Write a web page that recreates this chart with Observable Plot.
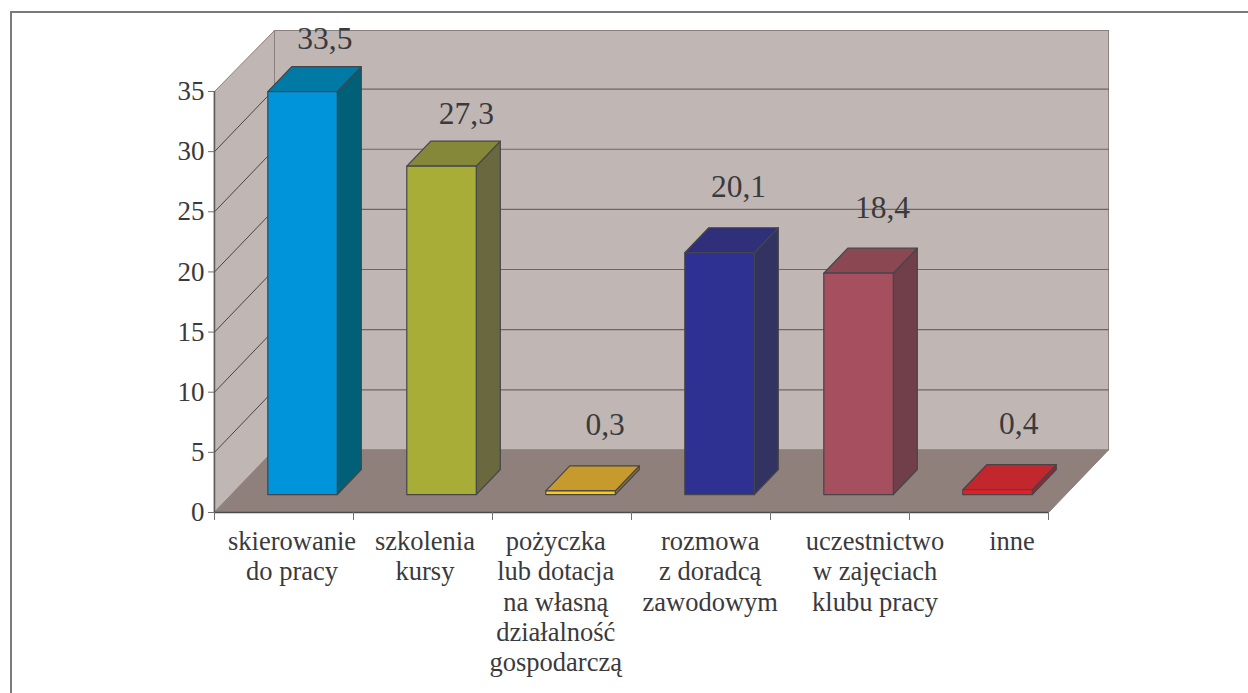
<!DOCTYPE html>
<html lang="pl">
<head>
<meta charset="utf-8">
<style>
html, body { margin: 0; padding: 0; background: #fff; }
#panel { position: absolute; left: 10px; top: 11px; width: 1238px; height: 682px; border-left: 2px solid #7a7a7a; border-top: 2px solid #7a7a7a; box-sizing: border-box; }
#chart { position: absolute; left: 0; top: 0; }
</style>
<script src="https://cdn.jsdelivr.net/npm/d3@7"></script>
<script src="https://cdn.jsdelivr.net/npm/@observablehq/plot@0.6"></script>
</head>
<body>
<div id="panel"></div>
<div id="chart"></div>
<script>
const categories = [
  "skierowanie\ndo pracy",
  "szkolenia\nkursy",
  "pożyczka\nlub dotacja\nna własną\ndziałalność\ngospodarczą",
  "rozmowa\nz doradcą\nzawodowym",
  "uczestnictwo\nw zajęciach\nklubu pracy",
  "inne"
];
const values = [33.5, 27.3, 0.3, 20.1, 18.4, 0.4];
const yTicks = [0, 5, 10, 15, 20, 25, 30, 35];

const frontColors = ["#0095db", "#a8ad38", "#ffc90e", "#2e3192", "#a6505f", "#ed1c24"];
const topColors   = ["#0079a5", "#858838", "#c69a2c", "#2f3079", "#8b4852", "#c1272d"];
const sideColors  = ["#006078", "#6a683f", "#8e7030", "#333362", "#703f49", "#8e2a33"];

// Label placement relative to the category slot / bar top (category and value units)
const categoryNudge = [0.058, 0.014, -0.045, 0.066, 0.252, 0.237];
const valueShift = [-0.012, 0.006, 0.004, -0.036, 0, -0.02];
const valueLift = [1.25, 1.16, 2.33, 2.33, 2.24, 2.33];

// Oblique projection: depth d (0 front .. 1 back) moves right and up in data units
const DX = 0.4317, DY = 5.2, D0 = 0.287, D1 = 0.687, BAR_A = 0.2595, BAR_W = 0.5, WALL_TOP = 34.87;
const project = ([i, v, d]) => ({x: i + d * DX, y: v + d * DY});

function face(name, fill, corners) {
  return corners.map(c => ({face: name, fill, ...project(c)}));
}

const n = categories.length;
const walls = [
  ...face("wall-back", "#c0b7b4", [[0, 0, 1], [n, 0, 1], [n, WALL_TOP, 1], [0, WALL_TOP, 1]]),
  ...face("wall-left", "#c0b7b4", [[0, 0, 0], [0, 0, 1], [0, WALL_TOP, 1], [0, 35, 0]]),
  ...face("floor", "#8f807b", [[0, 0, 0], [n, 0, 0], [n, 0, 1], [0, 0, 1]])
];

const grid = yTicks.filter(v => v > 0 && v < 35).flatMap(v => [
  {g: "back" + v, ...project([0, v, 1])},
  {g: "back" + v, ...project([n, v, 1])}
]);
const gridTop = [{g: "t", ...project([0, WALL_TOP, 1])}, {g: "t", ...project([n, WALL_TOP, 1])}];
const gridLeft = yTicks.filter(v => v > 0 && v < 35).flatMap(v => [
  {g: "left" + v, ...project([0, v, 0])},
  {g: "left" + v, ...project([0, v, 1])}
]);

const bars = values.flatMap((v, i) => {
  const a = i + BAR_A, b = a + BAR_W;
  return [
    ...face(`side${i}`, sideColors[i], [[b, 0, D0], [b, 0, D1], [b, v, D1], [b, v, D0]]),
    ...face(`top${i}`, topColors[i], [[a, v, D0], [b, v, D0], [b, v, D1], [a, v, D1]]),
    ...face(`front${i}`, frontColors[i], [[a, 0, D0], [b, 0, D0], [b, v, D0], [a, v, D0]])
  ];
});

const valueLabels = values.map((v, i) => {
  const p = project([i + BAR_A + BAR_W / 2 + valueShift[i], v + valueLift[i], D1]);
  return {...p, text: String(v).replace(".", ",")};
});
const categoryLabels = categories.map((c, i) => ({x: i + 0.5 + categoryNudge[i], text: c}));

const serif = "'Liberation Serif', 'Times New Roman', serif";
const ink = "#3a3a3c";

const chart = Plot.plot({
  width: 1248,
  height: 693,
  marginLeft: 214,
  marginRight: 200,
  marginTop: 91,
  marginBottom: 181,
  x: {domain: [0, n]},
  y: {domain: [0, 35]},
  style: {background: "transparent", fontFamily: serif},
  marks: [
    Plot.line(walls, {x: "x", y: "y", z: "face", fill: d => d.fill, stroke: "#8a807d", strokeWidth: 1, curve: "linear-closed"}),
    Plot.line(grid, {x: "x", y: "y", z: "g", stroke: "#6f6664", strokeWidth: 1.2}),
    Plot.line(gridTop, {x: "x", y: "y", z: "g", stroke: "#8a807d", strokeWidth: 1.2}),
    Plot.line(gridLeft, {x: "x", y: "y", z: "g", stroke: "#4a4444", strokeWidth: 1}),
    Plot.line(bars, {x: "x", y: "y", z: "face", fill: d => d.fill, stroke: "#45454a", strokeWidth: 1.2, curve: "linear-closed"}),
    Plot.ruleX([0], {y1: 0, y2: 35, stroke: "#5c5c5c", strokeWidth: 1.5}),
    Plot.ruleY([0], {x1: 0, x2: n, stroke: "#4a4a4a", strokeWidth: 1.5}),
    Plot.axisY({ticks: yTicks, tickSize: 6, tickPadding: 4, fontSize: 27, stroke: "#707070", fill: ink, label: null}),
    Plot.axisX({ticks: d3.range(0, n + 1), tickSize: 8, stroke: "#707070", tickFormat: () => "", label: null}),
    Plot.text(valueLabels, {x: "x", y: "y", text: "text", fontSize: 31.5, fill: ink, lineAnchor: "bottom", textAnchor: "middle", dy: -3}),
    Plot.text(categoryLabels, {x: "x", y: 0, text: "text", fontSize: 26.5, fill: ink, lineAnchor: "top", textAnchor: "middle", dy: 16, lineHeight: 1.145})
  ]
});
document.getElementById("chart").append(chart);
</script>
</body>
</html>
